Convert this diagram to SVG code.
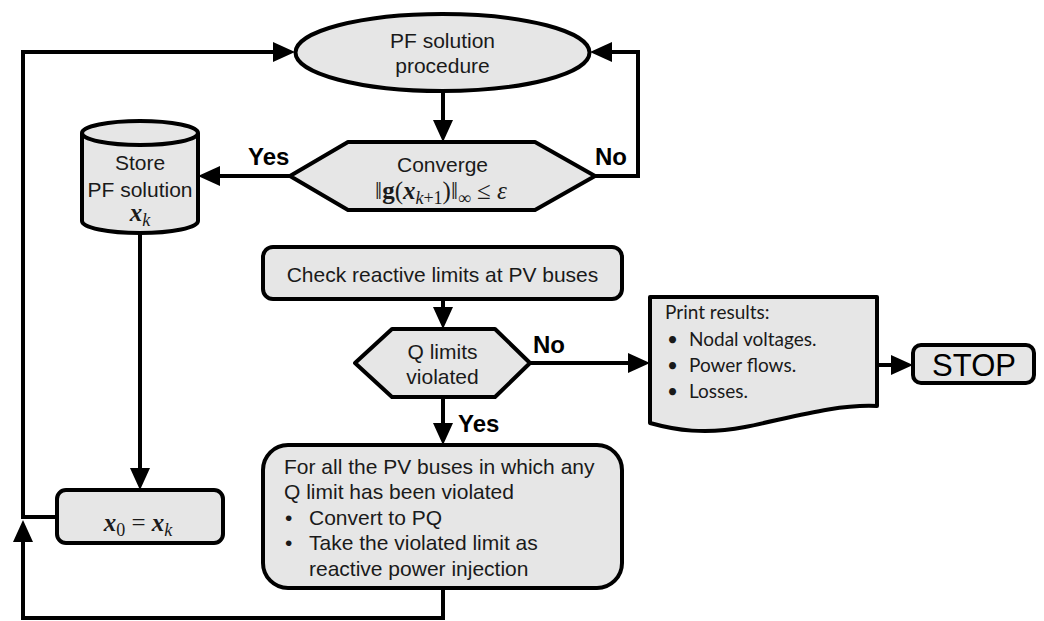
<svg xmlns="http://www.w3.org/2000/svg" width="1044" height="621" viewBox="0 0 1044 621">
<defs>
<marker id="ah" viewBox="0 0 22 20" refX="0" refY="10" markerWidth="22" markerHeight="20" markerUnits="userSpaceOnUse" orient="auto">
<path d="M0,0 L22,10 L0,20 z" fill="#000"/>
</marker>
<style>
.n{fill:#e6e6e6;stroke:#000;stroke-width:4;stroke-linejoin:round}
.c{fill:none;stroke:#000;stroke-width:4;marker-end:url(#ah)}
.t{font-family:"Liberation Sans",Arial,sans-serif;font-size:21px;fill:#1a1a1a}
.m{font-family:"Liberation Serif","DejaVu Serif",serif;font-size:25px;fill:#1a1a1a}
.s{font-size:18px}
.lb{font-family:"Liberation Sans",Arial,sans-serif;font-size:24px;font-weight:bold;fill:#000}
.d{font-family:Lato,"Open Sans",sans-serif;font-size:19px;fill:#1a1a1a}
</style>
</defs>
<rect width="1044" height="621" fill="#fff"/>
<g id="connectors">
<path class="c" d="M443,91 V120"/>
<path class="c" d="M290,176 H220"/>
<path class="c" d="M595,176 H638 V52 H612"/>
<path class="c" d="M140,233 V468"/>
<path class="c" d="M57,517 H23 V52 H273"/>
<path class="c" d="M443,299 V307"/>
<path class="c" d="M443,397 V423"/>
<path class="c" d="M530,363 H628"/>
<path class="c" d="M877,365 H891"/>
<path class="c" d="M443,588 V618 H23 V542"/>
<text class="lb" x="248" y="165">Yes</text>
<text class="lb" x="595" y="165">No</text>
<text class="lb" x="533" y="353">No</text>
<text class="lb" x="458" y="432">Yes</text>
</g>
<g id="pf-solution">
<ellipse class="n" cx="442.5" cy="52.5" rx="147" ry="38.5"/>
<text class="t" x="442.5" y="48" text-anchor="middle">PF solution</text>
<text class="t" x="442.5" y="73" text-anchor="middle">procedure</text>
</g>
<g id="converge">
<polygon class="n" points="290,176 348,142 535,142 595,176 535,210 348,210"/>
<text class="t" x="442.5" y="172" text-anchor="middle">Converge</text>
<text class="m" x="441" y="199" text-anchor="middle">‖<tspan font-weight="bold">g</tspan>(<tspan font-weight="bold" font-style="italic">x</tspan><tspan class="s" font-style="italic" dy="5">k</tspan><tspan class="s">+1</tspan><tspan dy="-5">)‖</tspan><tspan class="s" dy="5">∞</tspan><tspan dy="-5"> ≤ </tspan><tspan font-style="italic">ε</tspan></text>
</g>
<g id="store">
<path class="n" d="M82,133 V221 A58,12 0 0 0 198,221 V133"/>
<ellipse class="n" cx="140" cy="133" rx="58" ry="12"/>
<text class="t" x="140" y="170" text-anchor="middle">Store</text>
<text class="t" x="140" y="197" text-anchor="middle">PF solution</text>
<text class="m" x="140" y="221" text-anchor="middle"><tspan font-weight="bold" font-style="italic">x</tspan><tspan class="s" font-style="italic" dy="5">k</tspan></text>
</g>
<g id="x0">
<rect class="n" x="57" y="490" width="166" height="53" rx="9"/>
<text class="m" x="138" y="531" text-anchor="middle"><tspan font-weight="bold" font-style="italic">x</tspan><tspan class="s" dy="5">0</tspan><tspan dy="-5"> = </tspan><tspan font-weight="bold" font-style="italic">x</tspan><tspan class="s" font-style="italic" dy="5">k</tspan></text>
</g>
<g id="check">
<rect class="n" x="263" y="247" width="359" height="52" rx="10"/>
<text class="t" x="442.5" y="282" text-anchor="middle">Check reactive limits at PV buses</text>
</g>
<g id="qlimits">
<polygon class="n" points="355,363 392,329 495,329 530,363 495,397 392,397"/>
<text class="t" x="442.5" y="359" text-anchor="middle">Q limits</text>
<text class="t" x="442.5" y="384" text-anchor="middle">violated</text>
</g>
<g id="convert">
<rect class="n" x="263" y="445" width="359" height="143" rx="25"/>
<text class="t" x="284" y="474">For all the PV buses in which any</text>
<text class="t" x="284" y="499">Q limit has been violated</text>
<text class="t" x="285" y="525">•</text>
<text class="t" x="309" y="525">Convert to PQ</text>
<text class="t" x="285" y="550">•</text>
<text class="t" x="309" y="550">Take the violated limit as</text>
<text class="t" x="309" y="576">reactive power injection</text>
</g>
<g id="print">
<path class="n" d="M650,297 H877 V406 C835,404 790,418 745,427 C705,435 675,430 650,423 Z"/>
<text class="d" x="665" y="319">Print results:</text>
<text class="d" x="667" y="346">•</text>
<text class="d" x="689" y="346">Nodal voltages.</text>
<text class="d" x="667" y="372">•</text>
<text class="d" x="689" y="372">Power flows.</text>
<text class="d" x="667" y="398">•</text>
<text class="d" x="689" y="398">Losses.</text>
</g>
<g id="stop">
<rect class="n" x="913" y="345" width="121" height="38" rx="8"/>
<text x="974" y="376" text-anchor="middle" font-family="Liberation Sans, Arial, sans-serif" font-size="31" fill="#000">STOP</text>
</g>
</svg>
